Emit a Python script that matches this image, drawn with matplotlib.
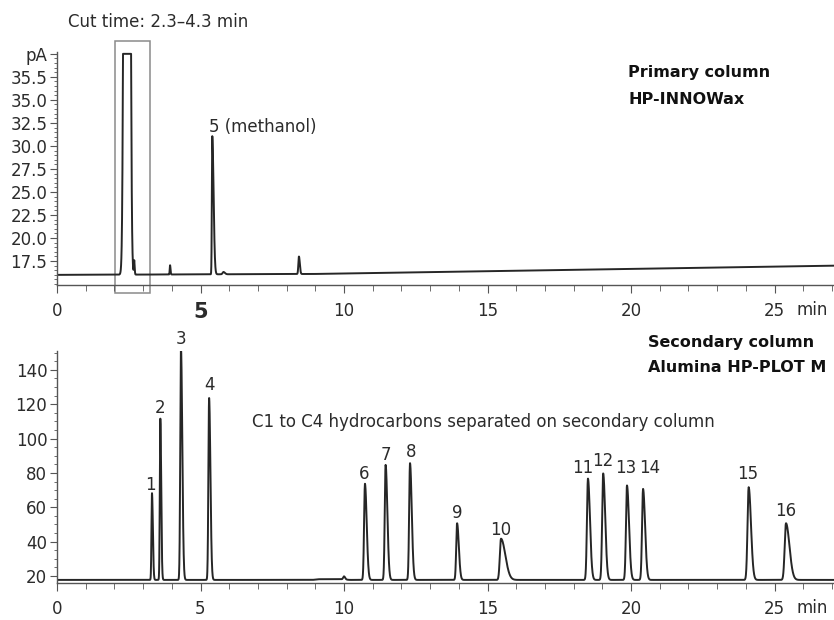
import numpy as np
import matplotlib
matplotlib.use("Agg")
import matplotlib.pyplot as plt
from matplotlib.patches import Rectangle
from matplotlib.ticker import MultipleLocator
from matplotlib.transforms import offset_copy

plt.rcParams["font.family"] = ["Liberation Sans Narrow", "DejaVu Sans"]

# primary column (HP-INNOWax): retention time (min), height above baseline (pA)
prim_times = [2.44, 2.69, 3.94, 5.41, 5.80, 8.43]
prim_heights = [400.0, 1.5, 1.0, 15.0, 0.25, 1.9]
prim_sig_l = [0.060, 0.012, 0.012, 0.014, 0.03, 0.020]
prim_sig_r = [0.060, 0.015, 0.015, 0.045, 0.05, 0.030]
prim_base_t = [0.0, 9.0, 27.1]
prim_base_v = [16.0, 16.1, 17.0]
prim_saturation = 40.0

# secondary column (Alumina HP-PLOT M)
sec_labels = ["1", "2", "3", "4", "6", "7", "8", "9", "10",
              "11", "12", "13", "14", "15", "16"]
sec_times = [3.31, 3.60, 4.32, 5.30, 10.73, 11.45, 12.30, 13.94, 15.47,
             18.50, 19.03, 19.86, 20.42, 24.10, 25.40]
sec_heights = [50.5, 94, 135, 106, 56, 67, 68, 33, 24,
               59, 62, 55, 53, 54, 33]
sec_sig_l = [0.018, 0.018, 0.025, 0.025, 0.030, 0.030, 0.030, 0.030, 0.040,
             0.035, 0.035, 0.035, 0.035, 0.040, 0.045]
sec_sig_r = [0.030, 0.030, 0.045, 0.045, 0.060, 0.060, 0.060, 0.060, 0.150,
             0.070, 0.070, 0.070, 0.070, 0.080, 0.120]
sec_label_t = [3.24, 3.59, 4.32, 5.30, 10.70, 11.46, 12.33, 13.94, 15.47,
               18.33, 19.02, 19.80, 20.66, 24.08, 25.40]
sec_label_v = [73, 118, 158, 131, 79.5, 90.5, 92, 56.7, 47,
               83, 87, 83, 83, 79.5, 58]
sec_extra_t = [10.0]
sec_extra_h = [1.8]
sec_base_t = [0.0, 8.9, 9.1, 9.9, 10.2, 27.1]
sec_base_v = [17.7, 17.7, 18.1, 18.1, 17.7, 17.7]

prim_yticks = [17.5, 20.0, 22.5, 25.0, 27.5, 30.0, 32.5, 35.0, 37.5, 40.0]
prim_yticklabels = ["17.5", "20.0", "22.5", "25.0", "27.5", "30.0", "32.5",
                    "35.0", "35.5", "pA"]
sec_yticks = [20, 40, 60, 80, 100, 120, 140]
xticks = [0, 5, 10, 15, 20, 25]

LINE = "#262626"
AXC = "#555555"
TXT = "#2b2b2b"
BOLD = "#111111"

t = np.linspace(0, 27.1, 8000)


def trace(times, heights, sl, sr, base_t, base_v):
    y = np.interp(t, base_t, base_v)
    for c, h, a, b in zip(times, heights, sl, sr):
        s = np.where(t < c, a, b)
        y = y + h * np.exp(-0.5 * ((t - c) / s) ** 2)
    return y


prim = trace(prim_times, prim_heights, prim_sig_l, prim_sig_r, prim_base_t, prim_base_v)
prim = np.minimum(prim, prim_saturation)
sec = trace(sec_times, sec_heights, sec_sig_l, sec_sig_r, sec_base_t, sec_base_v)
sec = sec + trace(sec_extra_t, sec_extra_h, [0.03], [0.04], [0, 27.1], [0, 0])

fig = plt.figure(figsize=(8.34, 6.2), dpi=100)
ax1 = fig.add_axes([57 / 834, 1 - 285 / 620, 1 - 57 / 834, 233 / 620])
ax2 = fig.add_axes([57 / 834, 1 - 583 / 620, 1 - 57 / 834, 232 / 620])


def style(ax):
    for s in ("top", "right"):
        ax.spines[s].set_visible(False)
    for s in ("left", "bottom"):
        ax.spines[s].set_color(AXC)
        ax.spines[s].set_linewidth(1.0)
    ax.set_xlim(0, (834 - 57) / 28.7)
    ax.set_xticks(xticks)
    ax.xaxis.set_minor_locator(MultipleLocator(1))
    ax.tick_params(axis="both", which="both", color=AXC, labelcolor=TXT,
                   labelsize=12, direction="out")
    ax.tick_params(axis="x", which="major", length=6, pad=6)
    ax.tick_params(axis="x", which="minor", length=4)
    ax.tick_params(axis="y", which="major", length=5, pad=2)
    ax.tick_params(axis="y", which="minor", length=2.5)
    ax.set_xticklabels([str(v) for v in xticks])


def add_min(ax):
    tr = offset_copy(ax.get_xaxis_transform(), fig=fig, x=0, y=-25, units="dots")
    ax.text(26.3, 0, "min", transform=tr, ha="center", va="center",
            fontsize=12, color=TXT)


style(ax1)
ax1.plot(t, prim, color=LINE, lw=1.4)
ax1.set_ylim(14.9, 40.2)
ax1.set_yticks(prim_yticks, prim_yticklabels)
ax1.yaxis.set_minor_locator(MultipleLocator(0.5))
lbl5 = ax1.get_xticklabels()[1]
lbl5.set_fontweight("bold")
lbl5.set_fontsize(15)
add_min(ax1)
ax1.text(5.3, 32.1, "5 (methanol)", ha="left", va="center", fontsize=12, color=TXT)
ax1.add_patch(Rectangle((2.02, 14.0), 1.22, 27.4, fill=False, ec="#8a8a8a",
                        lw=1.1, clip_on=False))

style(ax2)
ax2.plot(t, sec, color=LINE, lw=1.4)
ax2.set_ylim(15.9, 151)
ax2.set_yticks(sec_yticks)
ax2.yaxis.set_minor_locator(MultipleLocator(5))
add_min(ax2)
for lab, lt, lv in zip(sec_labels, sec_label_t, sec_label_v):
    ax2.text(lt, lv, lab, ha="center", va="center", fontsize=12, color=TXT,
             clip_on=False)

fig.text(68 / 834, 1 - 22 / 620, "Cut time: 2.3\u20134.3 min", ha="left",
         va="center", fontsize=12, color=TXT)
fig.text(628 / 834, 1 - 73 / 620, "Primary column", ha="left", va="center",
         fontsize=11.5, fontweight="bold", color=BOLD)
fig.text(628 / 834, 1 - 100 / 620, "HP-INNOWax", ha="left", va="center",
         fontsize=11.5, fontweight="bold", color=BOLD)
fig.text(648 / 834, 1 - 342 / 620, "Secondary column", ha="left", va="center",
         fontsize=11.5, fontweight="bold", color=BOLD)
fig.text(648 / 834, 1 - 367 / 620, "Alumina HP-PLOT M", ha="left", va="center",
         fontsize=11.5, fontweight="bold", color=BOLD)
fig.text(252 / 834, 1 - 422 / 620,
         "C1 to C4 hydrocarbons separated on secondary column", ha="left",
         va="center", fontsize=12, color=TXT)

fig.savefig("out.png", dpi=100)
